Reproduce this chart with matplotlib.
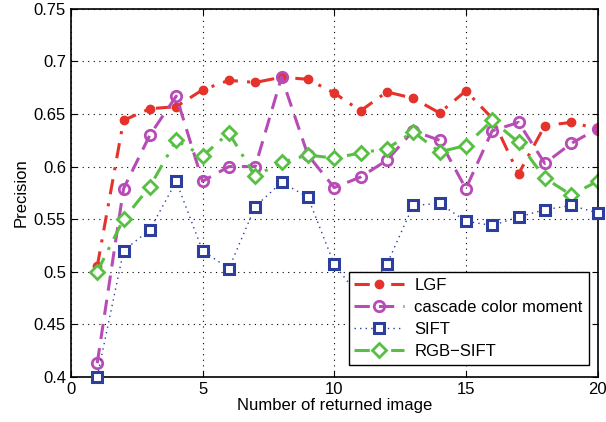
#!/usr/bin/env python3

import numpy as np
import matplotlib
matplotlib.use("Agg")
import matplotlib.pyplot as plt

plt.rcParams['font.family'] = ['Liberation Sans', 'DejaVu Sans']

n_images = np.arange(1, 21)
lgf = [0.505, 0.644, 0.655, 0.657, 0.673, 0.682, 0.680, 0.685, 0.683, 0.670,
       0.653, 0.671, 0.665, 0.651, 0.672, 0.646, 0.593, 0.639, 0.642, 0.636]
cascade = [0.413, 0.579, 0.630, 0.667, 0.586, 0.600, 0.600, 0.685, 0.611, 0.580,
           0.590, 0.606, 0.634, 0.625, 0.579, 0.634, 0.642, 0.603, 0.622, 0.636]
sift = [0.400, 0.520, 0.540, 0.586, 0.520, 0.503, 0.562, 0.585, 0.571, 0.507,
        0.475, 0.507, 0.563, 0.565, 0.548, 0.544, 0.552, 0.559, 0.563, 0.556]
rgb_sift = [0.500, 0.550, 0.581, 0.625, 0.610, 0.632, 0.591, 0.604, 0.611, 0.608,
            0.613, 0.617, 0.633, 0.614, 0.620, 0.644, 0.623, 0.589, 0.573, 0.586]
xticks = [0, 5, 10, 15, 20]
yticks = [0.4, 0.45, 0.5, 0.55, 0.6, 0.65, 0.7, 0.75]


def main():
    fig = plt.figure(figsize=(6.06, 4.22), dpi=100)
    ax = fig.add_axes([0.117, 0.107, 0.869, 0.872])

    ax.plot(n_images, lgf, color='#e5322b', lw=2.2, ls=(0, (5, 3, 1, 3)),
            marker='o', ms=6, mfc='#e5322b', mec='#e5322b', label='LGF')
    ax.plot(n_images, cascade, color='#b74cb6', lw=2.2, ls=(0, (5, 3)),
            marker='o', ms=7.5, mfc='none', mec='#b74cb6', mew=2,
            label='cascade color moment')
    ax.plot(n_images, sift, color='#2c3f9f', lw=1.0, ls=(0, (1, 3)),
            marker='s', ms=6.5, mfc='white', mec='#2c3f9f', mew=2.2,
            label='SIFT', clip_on=False, zorder=3)
    ax.plot(n_images, rgb_sift, color='#57c043', lw=2.2, ls=(0, (5, 3, 1, 3)),
            marker='D', ms=7, mfc='white', mec='#57c043', mew=2,
            label='RGB\u2212SIFT')

    ax.set_xlim(0, 20)
    ax.set_ylim(0.4, 0.75)
    ax.set_xticks(xticks)
    ax.set_yticks(yticks)
    ax.set_yticklabels(['0.4', '0.45', '0.5', '0.55', '0.6', '0.65', '0.7', '0.75'])
    ax.tick_params(direction='in', top=True, right=True, labelsize=12, length=4)
    ax.grid(True, linestyle=(0, (1, 4)), color='black', lw=0.8)
    for s in ax.spines.values():
        s.set_linewidth(1.2)

    ax.set_xlabel('Number of returned image', fontsize=12, labelpad=1)
    ax.set_ylabel('Precision', fontsize=12)

    leg = ax.legend(loc='lower right', bbox_to_anchor=(0.983, 0.033),
                    borderaxespad=0, fontsize=12, fancybox=False, framealpha=1,
                    edgecolor='black', handlelength=3.0, borderpad=0.35,
                    labelspacing=0.42, handletextpad=0.6)
    leg.get_frame().set_linewidth(1.0)
    leg.set_zorder(5)

    fig.savefig('out.png', dpi=100)


if __name__ == "__main__":
    main()
